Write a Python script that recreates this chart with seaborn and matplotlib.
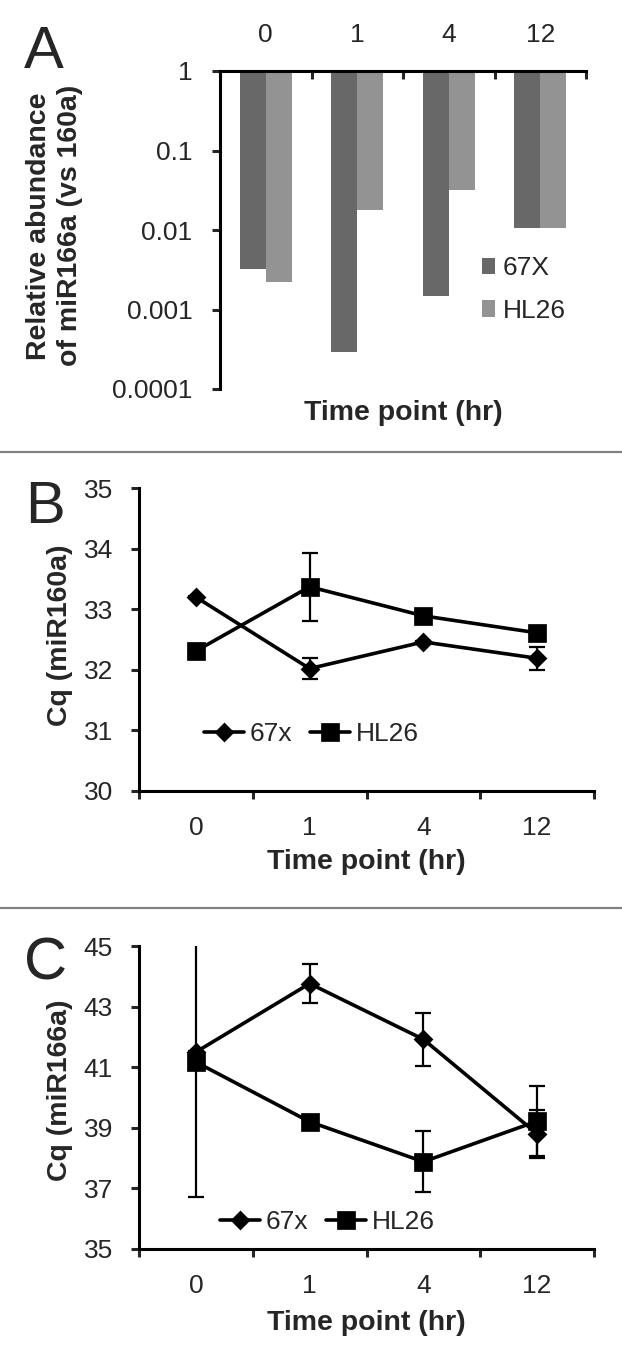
import matplotlib
matplotlib.use("Agg")
import matplotlib.pyplot as plt
import numpy as np
import pandas as pd
import seaborn as sns

# data
times = ["0", "1", "4", "12"]

# A: relative abundance of miR166a vs miR160a (log scale)
abund_67x = [0.0032, 0.00029, 0.0015, 0.0105]
abund_hl26 = [0.0022, 0.018, 0.032, 0.0105]
a_ticks = [1, 0.1, 0.01, 0.001, 0.0001]
a_ticklabels = ["1", "0.1", "0.01", "0.001", "0.0001"]

# B: Cq miR160a
cq160_67x = [33.2, 32.02, 32.46, 32.19]
cq160_67x_err = [0.02, 0.17, 0.02, 0.19]
cq160_hl26 = [32.31, 33.37, 32.89, 32.61]
cq160_hl26_err = [0.12, 0.56, 0.03, 0.03]

# C: Cq miR166a
cq166_67x = [41.5, 43.76, 41.92, 38.8]
cq166_67x_err = [0.05, 0.63, 0.87, 0.8]
cq166_hl26 = [41.17, 39.2, 37.88, 39.22]
cq166_hl26_err = [4.45, 0.05, 1.0, 1.16]

sns.set_style("white")
plt.rcParams["font.family"] = ["Liberation Sans", "DejaVu Sans"]

TICK_FS = 19
LAB_FS = 20.5
SPINE_W = 2.2

fig = plt.figure(figsize=(6.22, 13.64), dpi=100)

# ---------- panel A ----------
axA = fig.add_axes([220 / 622, 1 - 389 / 1364, 366 / 622, 318 / 1364])
dfA = pd.DataFrame({
    "time": times * 2,
    "value": abund_67x + abund_hl26,
    "line": ["67X"] * 4 + ["HL26"] * 4,
})
sns.barplot(data=dfA, x="time", y="value", hue="line", order=times,
            palette=["#686868", "#939393"], width=0.57, errorbar=None,
            saturation=1, linewidth=0, ax=axA)
axA.set_yscale("log")
# bars hang down from 1 (axis crosses at 1 like in Excel)
for p in axA.patches:
    v = p.get_height()
    if v > 0:
        p.set_y(v)
        p.set_height(1 - v)
axA.set_ylim(0.0001, 1)
axA.set_xlim(-0.5, 3.5)
axA.set_yticks(a_ticks)
axA.set_yticklabels(a_ticklabels)
axA.yaxis.set_minor_locator(matplotlib.ticker.NullLocator())
axA.xaxis.tick_top()
axA.set_xticks([0, 1, 2, 3])
axA.set_xticklabels(times)
axA.set_xticks([-0.5, 0.5, 1.5, 2.5, 3.5], minor=True)
axA.tick_params(axis="x", which="major", length=0, pad=17, labelsize=TICK_FS)
axA.tick_params(axis="x", which="minor", direction="in", length=8 / 1.389,
                width=SPINE_W, top=True, bottom=False)
axA.tick_params(axis="y", which="major", direction="out", length=8 / 1.389,
                width=SPINE_W, pad=14, labelsize=TICK_FS, left=True)
for s in ["right", "bottom"]:
    axA.spines[s].set_visible(False)
for s in ["left", "top"]:
    axA.spines[s].set_linewidth(SPINE_W)
    axA.spines[s].set_color("black")
axA.set_xlabel("Time point (hr)", fontsize=LAB_FS, fontweight="bold")
axA.xaxis.set_label_position("bottom")
axA.xaxis.label.set_va("center")
axA.xaxis.set_label_coords(0.5, -0.075)
axA.set_ylabel("Relative abundance\nof miR166a (vs 160a)", fontsize=LAB_FS,
               fontweight="bold", linespacing=1.25)
axA.yaxis.label.set_va("center")
axA.yaxis.set_label_coords(-0.451, 0.513)
axA.legend(loc="center left", bbox_to_anchor=(0.716, 0.313), frameon=False,
           fontsize=TICK_FS, handlelength=0.5, handleheight=0.6,
           handletextpad=0.27, labelspacing=0.7, borderpad=0, borderaxespad=0)


def cq_panel(ax, v67, e67, vhl, ehl, ymin, ymax, yticks, leg_xy, ylabel):
    df = pd.DataFrame({
        "time": times * 2,
        "cq": v67 + vhl,
        "line": ["67x"] * 4 + ["HL26"] * 4,
    })
    x = np.arange(len(times))
    ax.errorbar(x, v67, yerr=e67, fmt="none", ecolor="black", elinewidth=1.6,
                capsize=6, capthick=1.6, zorder=1)
    ax.errorbar(x, vhl, yerr=ehl, fmt="none", ecolor="black", elinewidth=1.6,
                capsize=6, capthick=1.6, zorder=1)
    sns.pointplot(data=df, x="time", y="cq", hue="line", order=times,
                  hue_order=["67x", "HL26"], palette=["black", "black"],
                  markers=["D", "s"], linestyles="-", errorbar=None,
                  markersize=10, linewidth=2.6, ax=ax)
    for ln in ax.lines:
        if ln.get_marker() == "D":
            ln.set_markersize(8)
        elif ln.get_marker() == "s":
            ln.set_markersize(11)
        ln.set_zorder(3)
    ax.set_ylim(ymin, ymax)
    ax.set_xlim(-0.5, 3.5)
    ax.set_yticks(yticks)
    ax.set_xticks([0, 1, 2, 3])
    ax.set_xticklabels(times)
    ax.set_xticks([-0.5, 0.5, 1.5, 2.5, 3.5], minor=True)
    ax.tick_params(axis="x", which="major", length=0, pad=18, labelsize=TICK_FS)
    ax.tick_params(axis="x", which="minor", direction="out", length=8 / 1.389,
                   width=SPINE_W, bottom=True)
    ax.tick_params(axis="y", which="major", direction="out", length=8 / 1.389,
                   width=SPINE_W, pad=13, labelsize=TICK_FS, left=True)
    for s in ["right", "top"]:
        ax.spines[s].set_visible(False)
    for s in ["left", "bottom"]:
        ax.spines[s].set_linewidth(SPINE_W)
        ax.spines[s].set_color("black")
    ax.set_xlabel("Time point (hr)", fontsize=LAB_FS, fontweight="bold")
    ax.xaxis.label.set_va("center")
    ax.set_ylabel(ylabel, fontsize=LAB_FS, fontweight="bold")
    ax.yaxis.label.set_va("center")
    handles, labels = ax.get_legend_handles_labels()
    ax.legend(handles, labels, loc="center left", bbox_to_anchor=leg_xy,
              ncol=2, frameon=False, fontsize=TICK_FS, handlelength=1.5,
              handletextpad=0.23, columnspacing=0.68, borderpad=0,
              borderaxespad=0)


# ---------- panel B ----------
axB = fig.add_axes([139 / 622, 1 - 791 / 1364, 455 / 622, 303 / 1364])
cq_panel(axB, cq160_67x, cq160_67x_err, cq160_hl26, cq160_hl26_err,
         30, 35, [30, 31, 32, 33, 34, 35], (0.143, 0.188), "Cq (miR160a)")
axB.xaxis.set_label_coords(0.5, -0.234)
axB.yaxis.set_label_coords(-0.174, 0.515)

# ---------- panel C ----------
axC = fig.add_axes([139 / 622, 1 - 1249 / 1364, 455 / 622, 303 / 1364])
cq_panel(axC, cq166_67x, cq166_67x_err, cq166_hl26, cq166_hl26_err,
         35, 45, [35, 37, 39, 41, 43, 45], (0.178, 0.089), "Cq (miR166a)")
axC.xaxis.set_label_coords(0.5, -0.244)
axC.yaxis.set_label_coords(-0.174, 0.525)

# panel letters
fig.text(24 / 622, 1 - 68 / 1364, "A", fontsize=43, va="baseline")
fig.text(25 / 622, 1 - 523 / 1364, "B", fontsize=43, va="baseline")
fig.text(24 / 622, 1 - 979 / 1364, "C", fontsize=43, va="baseline")

# separators between panels
for yy in [452, 908]:
    fig.add_artist(plt.Line2D([0, 1], [1 - yy / 1364] * 2, color="#808080",
                              linewidth=1.6, transform=fig.transFigure))

fig.savefig("out.png", dpi=100)
